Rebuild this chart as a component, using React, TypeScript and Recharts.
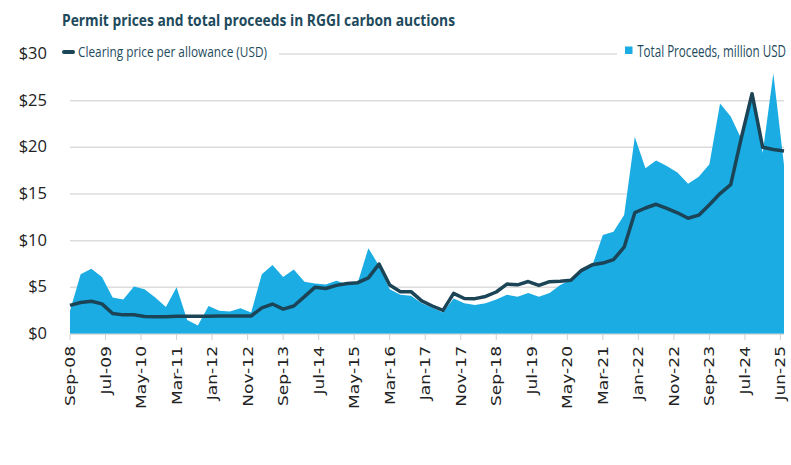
import React from 'react';
import { ComposedChart, Area, Line, XAxis, YAxis, CartesianGrid } from 'recharts';

const auctions = [
  'Sep-08', 'Dec-08', 'Mar-09', 'Jun-09', 'Sep-09', 'Dec-09', 'Mar-10', 'Jun-10',
  'Sep-10', 'Dec-10', 'Mar-11', 'Jun-11', 'Sep-11', 'Dec-11', 'Mar-12', 'Jun-12',
  'Sep-12', 'Dec-12', 'Mar-13', 'Jun-13', 'Sep-13', 'Dec-13', 'Mar-14', 'Jun-14',
  'Sep-14', 'Dec-14', 'Mar-15', 'Jun-15', 'Sep-15', 'Dec-15', 'Mar-16', 'Jun-16',
  'Sep-16', 'Dec-16', 'Mar-17', 'Jun-17', 'Sep-17', 'Dec-17', 'Mar-18', 'Jun-18',
  'Sep-18', 'Dec-18', 'Mar-19', 'Jun-19', 'Sep-19', 'Dec-19', 'Mar-20', 'Jun-20',
  'Sep-20', 'Dec-20', 'Mar-21', 'Jun-21', 'Sep-21', 'Dec-21', 'Mar-22', 'Jun-22',
  'Sep-22', 'Dec-22', 'Mar-23', 'Jun-23', 'Sep-23', 'Dec-23', 'Mar-24', 'Jun-24',
  'Sep-24', 'Dec-24', 'Mar-25', 'Jun-25',
];

const clearingPrice = [
  3.07, 3.38, 3.51, 3.23, 2.19, 2.05, 2.07, 1.88,
  1.86, 1.86, 1.89, 1.89, 1.89, 1.89, 1.93, 1.93,
  1.93, 1.93, 2.8, 3.21, 2.67, 3.0, 4.0, 5.02,
  4.88, 5.21, 5.41, 5.5, 6.02, 7.5, 5.25, 4.53,
  4.54, 3.55, 3.0, 2.53, 4.35, 3.8, 3.79, 4.02,
  4.5, 5.35, 5.27, 5.62, 5.2, 5.61, 5.65, 5.75,
  6.82, 7.41, 7.6, 7.97, 9.3, 13.0, 13.5, 13.9,
  13.45, 12.99, 12.4, 12.73, 13.85, 15.05, 16.0, 21.03,
  25.75, 20.0, 19.76, 19.6,
];

const totalProceeds = [
  2.5, 6.4, 7.0, 6.1, 3.9, 3.7, 5.1, 4.8,
  3.9, 2.9, 5.0, 1.5, 0.9, 3.0, 2.5, 2.4,
  2.75, 2.3, 6.4, 7.4, 6.1, 6.9, 5.6, 5.4,
  5.3, 5.7, 5.3, 5.5, 9.2, 7.3, 4.8, 4.2,
  4.1, 3.3, 2.8, 2.3, 3.8, 3.3, 3.1, 3.3,
  3.7, 4.2, 4.0, 4.4, 4.0, 4.4, 5.25, 5.8,
  6.7, 7.3, 10.6, 10.95, 12.75, 21.1, 17.75, 18.6,
  18.0, 17.3, 16.1, 16.85, 18.2, 24.7, 23.3, 20.9,
  25.6, 19.4, 27.9, 18.1,
];

const xTickMonths = [0, 10, 20, 30, 40, 50, 60, 70, 80, 90, 100, 110, 120, 130, 140, 150, 160, 170, 180, 190, 200];
const xTickLabels = [
  'Sep-08', 'Jul-09', 'May-10', 'Mar-11', 'Jan-12', 'Nov-12', 'Sep-13', 'Jul-14', 'May-15', 'Mar-16',
  'Jan-17', 'Nov-17', 'Sep-18', 'Jul-19', 'May-20', 'Mar-21', 'Jan-22', 'Nov-22', 'Sep-23', 'Jul-24', 'Jun-25',
];
const yTicks = [0, 5, 10, 15, 20, 25, 30];

const MONTHS = ['Jan', 'Feb', 'Mar', 'Apr', 'May', 'Jun', 'Jul', 'Aug', 'Sep', 'Oct', 'Nov', 'Dec'];
const monthOffset = (label: string) => {
  const [mon, yy] = label.split('-');
  return (Number(yy) - 8) * 12 + MONTHS.indexOf(mon) - 8;
};

const data = auctions.map((a, i) => ({
  m: monthOffset(a),
  label: a,
  price: clearingPrice[i],
  proceeds: totalProceeds[i],
}));

const TEAL = '#1e4a5c';
const LINE = '#1b4457';
const BLUE = '#1aace3';

const XTick = (props: any) => {
  const { x, y, payload } = props;
  const idx = xTickMonths.indexOf(payload.value);
  const label = idx >= 0 ? xTickLabels[idx] : '';
  return (
    <text
      transform={`translate(${x},${y}) rotate(-90) scale(1.22,1)`}
      textAnchor="end"
      dy="0.36em"
      fontFamily="DejaVu Sans"
      fontSize={14}
      fill="#222"
    >
      {label}
    </text>
  );
};

const YTick = (props: any) => {
  const { y, payload } = props;
  return (
    <text x={47} y={y} dy="0.3em" textAnchor="end" fontFamily="Open Sans" fontSize={16.5} fill="#222">
      {'$' + payload.value}
    </text>
  );
};

export default function App() {
  return (
    <div style={{ position: 'absolute', left: 0, top: 0, width: 791, height: 465, background: '#fff' }}>
      <ComposedChart width={791} height={465} data={data} margin={{ top: 54, right: 7, left: 0, bottom: 51 }}>
        <CartesianGrid vertical={false} stroke="#dcdcdc" strokeWidth={1.5} />
        <XAxis
          type="number"
          dataKey="m"
          domain={[0, 201]}
          ticks={xTickMonths}
          interval={0}
          tick={<XTick />}
          tickLine={{ stroke: '#d0d0d0' }}
          axisLine={{ stroke: '#d9d9d9' }}
          tickSize={6}
          tickMargin={6}
          height={80}
        />
        <YAxis
          domain={[0, 30]}
          ticks={yTicks}
          interval={0}
          tick={<YTick />}
          tickLine={false}
          axisLine={false}
          width={70}
        />
        <Area
          type="linear"
          dataKey="proceeds"
          fill={BLUE}
          fillOpacity={1}
          stroke="none"
          isAnimationActive={false}
        />
        <Line
          type="linear"
          dataKey="price"
          stroke={LINE}
          strokeWidth={3.5}
          strokeLinejoin="round"
          dot={false}
          activeDot={false}
          isAnimationActive={false}
        />
      </ComposedChart>
      <svg
        width={791}
        height={465}
        style={{ position: 'absolute', left: 0, top: 0, pointerEvents: 'none' }}
      >
        <text
          x={62}
          y={26}
          fontFamily="Open Sans"
          fontWeight={700}
          fontSize={15.5}
          fill={TEAL}
          textLength={393}
          lengthAdjust="spacingAndGlyphs"
        >
          Permit prices and total proceeds in RGGI carbon auctions
        </text>
        <rect x={58} y={43} width={221} height={18} fill="#fff" />
        <rect x={617} y={41} width={174} height={20} fill="#fff" />
        <line x1={64} y1={52} x2={73} y2={52} stroke={LINE} strokeWidth={4} strokeLinecap="round" />
        <text
          x={78}
          y={57}
          fontFamily="Open Sans"
          fontSize={15}
          fill={TEAL}
          textLength={189}
          lengthAdjust="spacingAndGlyphs"
        >
          Clearing price per allowance (USD)
        </text>
        <rect x={625} y={46.5} width={7.5} height={7.5} fill={BLUE} />
        <text
          transform="translate(786,56.5) scale(0.75,1)"
          textAnchor="end"
          fontFamily="Open Sans"
          fontSize={15.5}
          fill={TEAL}
        >
          Total Proceeds, million USD
        </text>
      </svg>
    </div>
  );
}
